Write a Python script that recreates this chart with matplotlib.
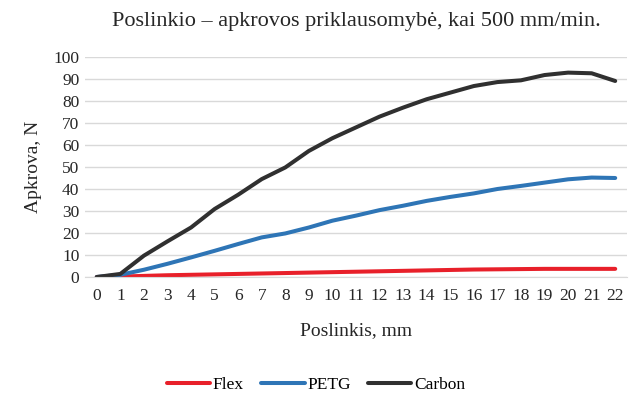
import matplotlib
matplotlib.use("Agg")
import matplotlib.pyplot as plt

# Data
displacement = list(range(0, 23))
flex = [0, 0.2, 0.5, 0.8, 1.0, 1.2, 1.4, 1.6, 1.8, 2.0, 2.2, 2.4,
        2.6, 2.8, 3.0, 3.2, 3.4, 3.5, 3.6, 3.7, 3.7, 3.7, 3.7]
petg = [0, 1.0, 3.3, 6.0, 8.9, 11.9, 15.0, 18.0, 19.8, 22.5, 25.6, 27.9,
        30.4, 32.4, 34.6, 36.4, 38.0, 40.0, 41.4, 42.9, 44.4, 45.2, 45.0]
carbon = [0, 1.4, 9.7, 16.2, 22.5, 30.9, 37.4, 44.5, 49.8, 57.3, 63.1, 68.0,
          72.9, 77.0, 80.8, 83.8, 86.8, 88.6, 89.4, 91.8, 92.9, 92.6, 89.1]
yticks = list(range(0, 101, 10))

plt.rcParams['font.family'] = ['Liberation Serif', 'DejaVu Serif']

fig = plt.figure(figsize=(6.32, 4.01), dpi=100)
ax = fig.add_axes([85 / 632, 1 - 277 / 401, 542 / 632, 220 / 401])

ax.plot(displacement, flex, color='#E8202A', lw=2.9, label='Flex', solid_capstyle='round')
ax.plot(displacement, petg, color='#2E75B6', lw=2.9, label='PETG', solid_capstyle='round')
ax.plot(displacement, carbon, color='#303030', lw=2.9, label='Carbon', solid_capstyle='round')

ax.set_xlim(-0.5, 22.5)
ax.set_ylim(0, 100)
ax.set_yticks(yticks)
ax.set_xticks(displacement)
ax.grid(axis='y', color='#D9D9D9', lw=1)
ax.set_axisbelow(True)
for s in ['top', 'right', 'left']:
    ax.spines[s].set_visible(False)
ax.spines['bottom'].set_color('#D9D9D9')
ax.tick_params(length=0, labelsize=12.5, colors='#262626', pad=8)
ax.tick_params(axis='y', pad=4)

ax.set_title('Poslinkio – apkrovos priklausomybė, kai 500 mm/min.',
             fontsize=16, color='#262626', pad=22)
ax.set_xlabel('Poslinkis, mm', fontsize=14, color='#262626', labelpad=13)
ax.set_ylabel('Apkrova, N', fontsize=14, color='#262626', labelpad=8)

ax.legend(loc='center', bbox_to_anchor=(0.426, -0.49), ncol=3, frameon=False,
          fontsize=12.5, handlelength=2.5, handletextpad=0.15, columnspacing=1.0)

fig.savefig('out.png', dpi=100)
